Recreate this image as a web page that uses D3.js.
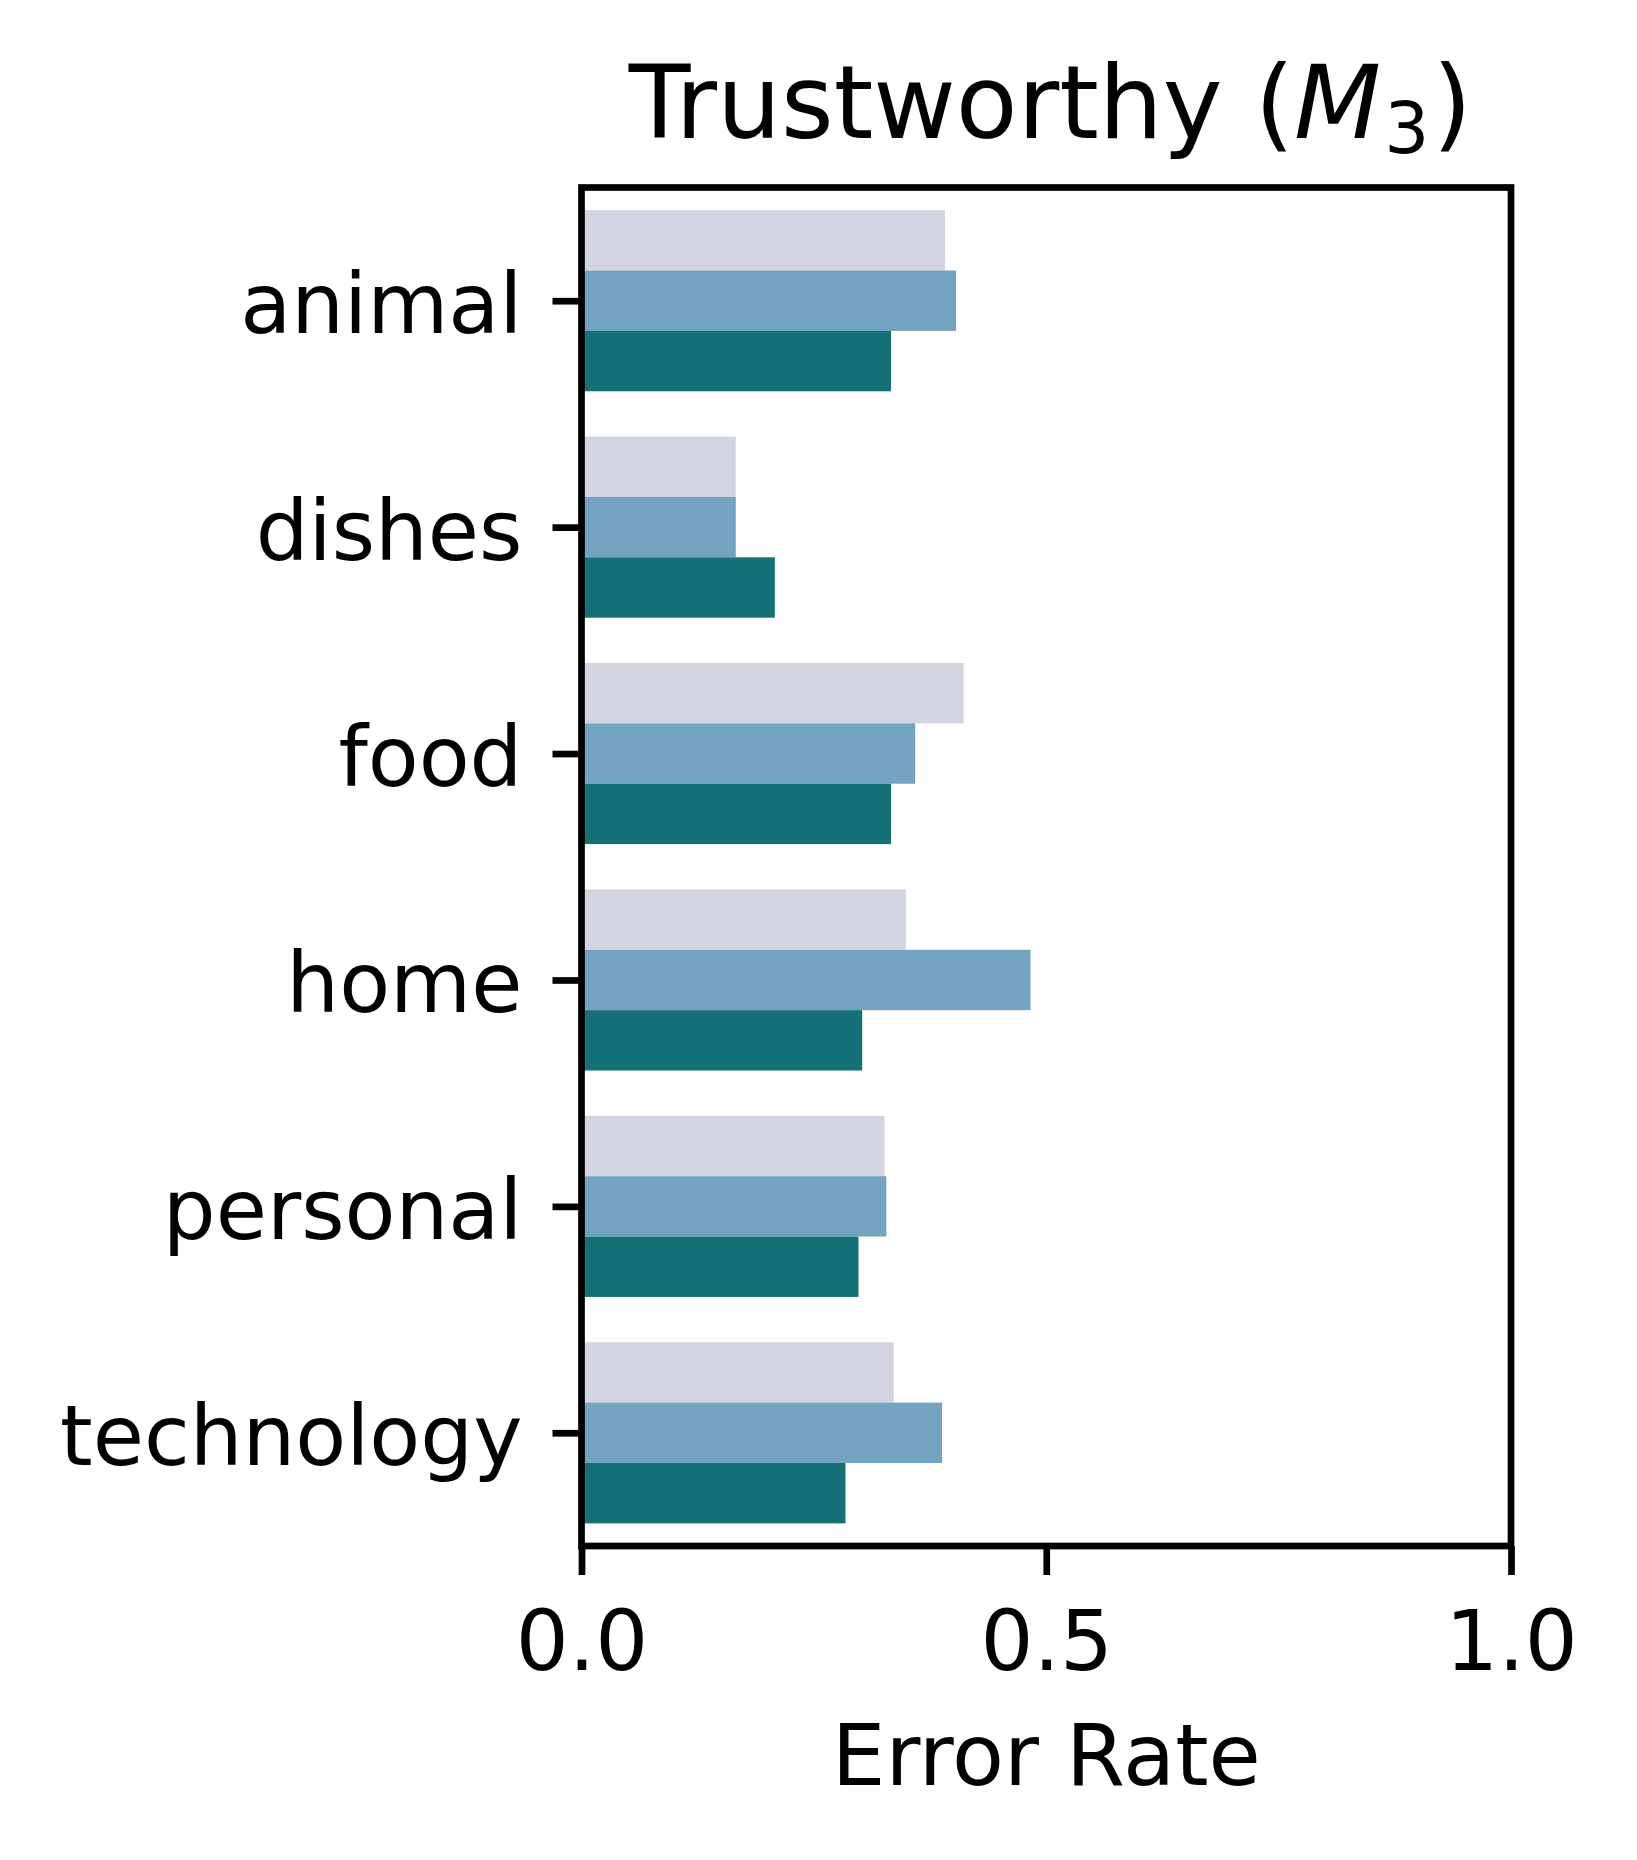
<!DOCTYPE html>
<html>
<head>
<meta charset="utf-8">
<script src="https://cdn.jsdelivr.net/npm/d3@7"></script>
<style>
  html, body { margin: 0; padding: 0; background: #fff; }
  svg { display: block; font-family: "DejaVu Sans", sans-serif; }
</style>
</head>
<body>
<svg id="chart" width="1637" height="1860"></svg>
<script>
// ---- data ----
const categories = ["animal", "dishes", "food", "home", "personal", "technology"];
const seriesNames = ["s1", "s2", "s3"];
const seriesLight = [0.391, 0.166, 0.411, 0.349, 0.326, 0.336];
const seriesMid   = [0.403, 0.166, 0.359, 0.483, 0.328, 0.388];
const seriesDark  = [0.333, 0.208, 0.333, 0.302, 0.298, 0.284];
const xTicks = [0.0, 0.5, 1.0];
const xTickLabels = ["0.0", "0.5", "1.0"];
const seriesColors = ["#d2d4e2", "#72a4c2", "#147276"];

const seriesValues = [seriesLight, seriesMid, seriesDark];

// ---- layout ----
const svg = d3.select("#chart");
const axL = 581.5, axR = 1511, axT = 187.5, axB = 1546;
const fs = 83.3;
const spineW = 6.7;
const tickLen = 29;

const x = d3.scaleLinear().domain([0, 1]).range([axL, axR]);
const yBand = d3.scaleBand().domain(categories).range([axT, axB]).paddingInner(0.2).paddingOuter(0.1);
const ySub = d3.scaleBand().domain(seriesNames).range([0, yBand.bandwidth()]);

// bars
const g = svg.append("g");
seriesValues.forEach((vals, si) => {
  g.selectAll(null)
    .data(categories.map((c, i) => ({ c, v: vals[i] })))
    .enter().append("rect")
    .attr("x", x(0))
    .attr("y", d => yBand(d.c) + ySub(seriesNames[si]))
    .attr("width", d => x(d.v) - x(0))
    .attr("height", ySub.bandwidth())
    .attr("fill", seriesColors[si]);
});

// y axis
const yAxis = d3.axisLeft(d3.scalePoint().domain(categories).range([axT, axB]).padding(0.5))
  .tickSize(tickLen).tickPadding(0);
const yG = svg.append("g").attr("transform", `translate(${axL},0)`).call(yAxis);
yG.select(".domain").remove();
yG.selectAll(".tick line").attr("stroke", "#000").attr("stroke-width", spineW);
yG.selectAll(".tick text")
  .attr("x", -tickLen - 30)
  .attr("dy", null)
  .attr("y", 32)
  .attr("fill", "#000")
  .attr("font-size", fs)
  .attr("font-family", "DejaVu Sans")
  .attr("text-anchor", "end");

// x axis
const xAxis = d3.axisBottom(x).tickValues(xTicks).tickFormat((d, i) => xTickLabels[i])
  .tickSize(tickLen).tickPadding(0);
const xG = svg.append("g").attr("transform", `translate(0,${axB})`).call(xAxis);
xG.select(".domain").remove();
xG.selectAll(".tick line").attr("stroke", "#000").attr("stroke-width", spineW);
xG.selectAll(".tick text")
  .attr("y", 124)
  .attr("dy", null)
  .attr("fill", "#000")
  .attr("font-size", fs)
  .attr("font-family", "DejaVu Sans")
  .attr("text-anchor", "middle");

// spines
svg.append("rect")
  .attr("x", axL).attr("y", axT)
  .attr("width", axR - axL).attr("height", axB - axT)
  .attr("fill", "none").attr("stroke", "#000").attr("stroke-width", spineW)
  .attr("stroke-linecap", "square");

// x label
svg.append("text")
  .attr("x", (axL + axR) / 2).attr("y", 1785)
  .attr("text-anchor", "middle")
  .attr("font-size", 85)
  .attr("fill", "#000")
  .text("Error Rate");

// title
const title = svg.append("text")
  .attr("x", (axL + axR) / 2 + 4).attr("y", 138)
  .attr("text-anchor", "middle")
  .attr("font-size", 101)
  .attr("fill", "#000");
title.append("tspan").text("Trustworthy (");
title.append("tspan").attr("font-style", "italic").text("M");
title.append("tspan").attr("font-size", 71).attr("dx", 3).attr("dy", 15).text("3");
title.append("tspan").attr("dx", 3).attr("dy", -15).text(")");
</script>
</body>
</html>
